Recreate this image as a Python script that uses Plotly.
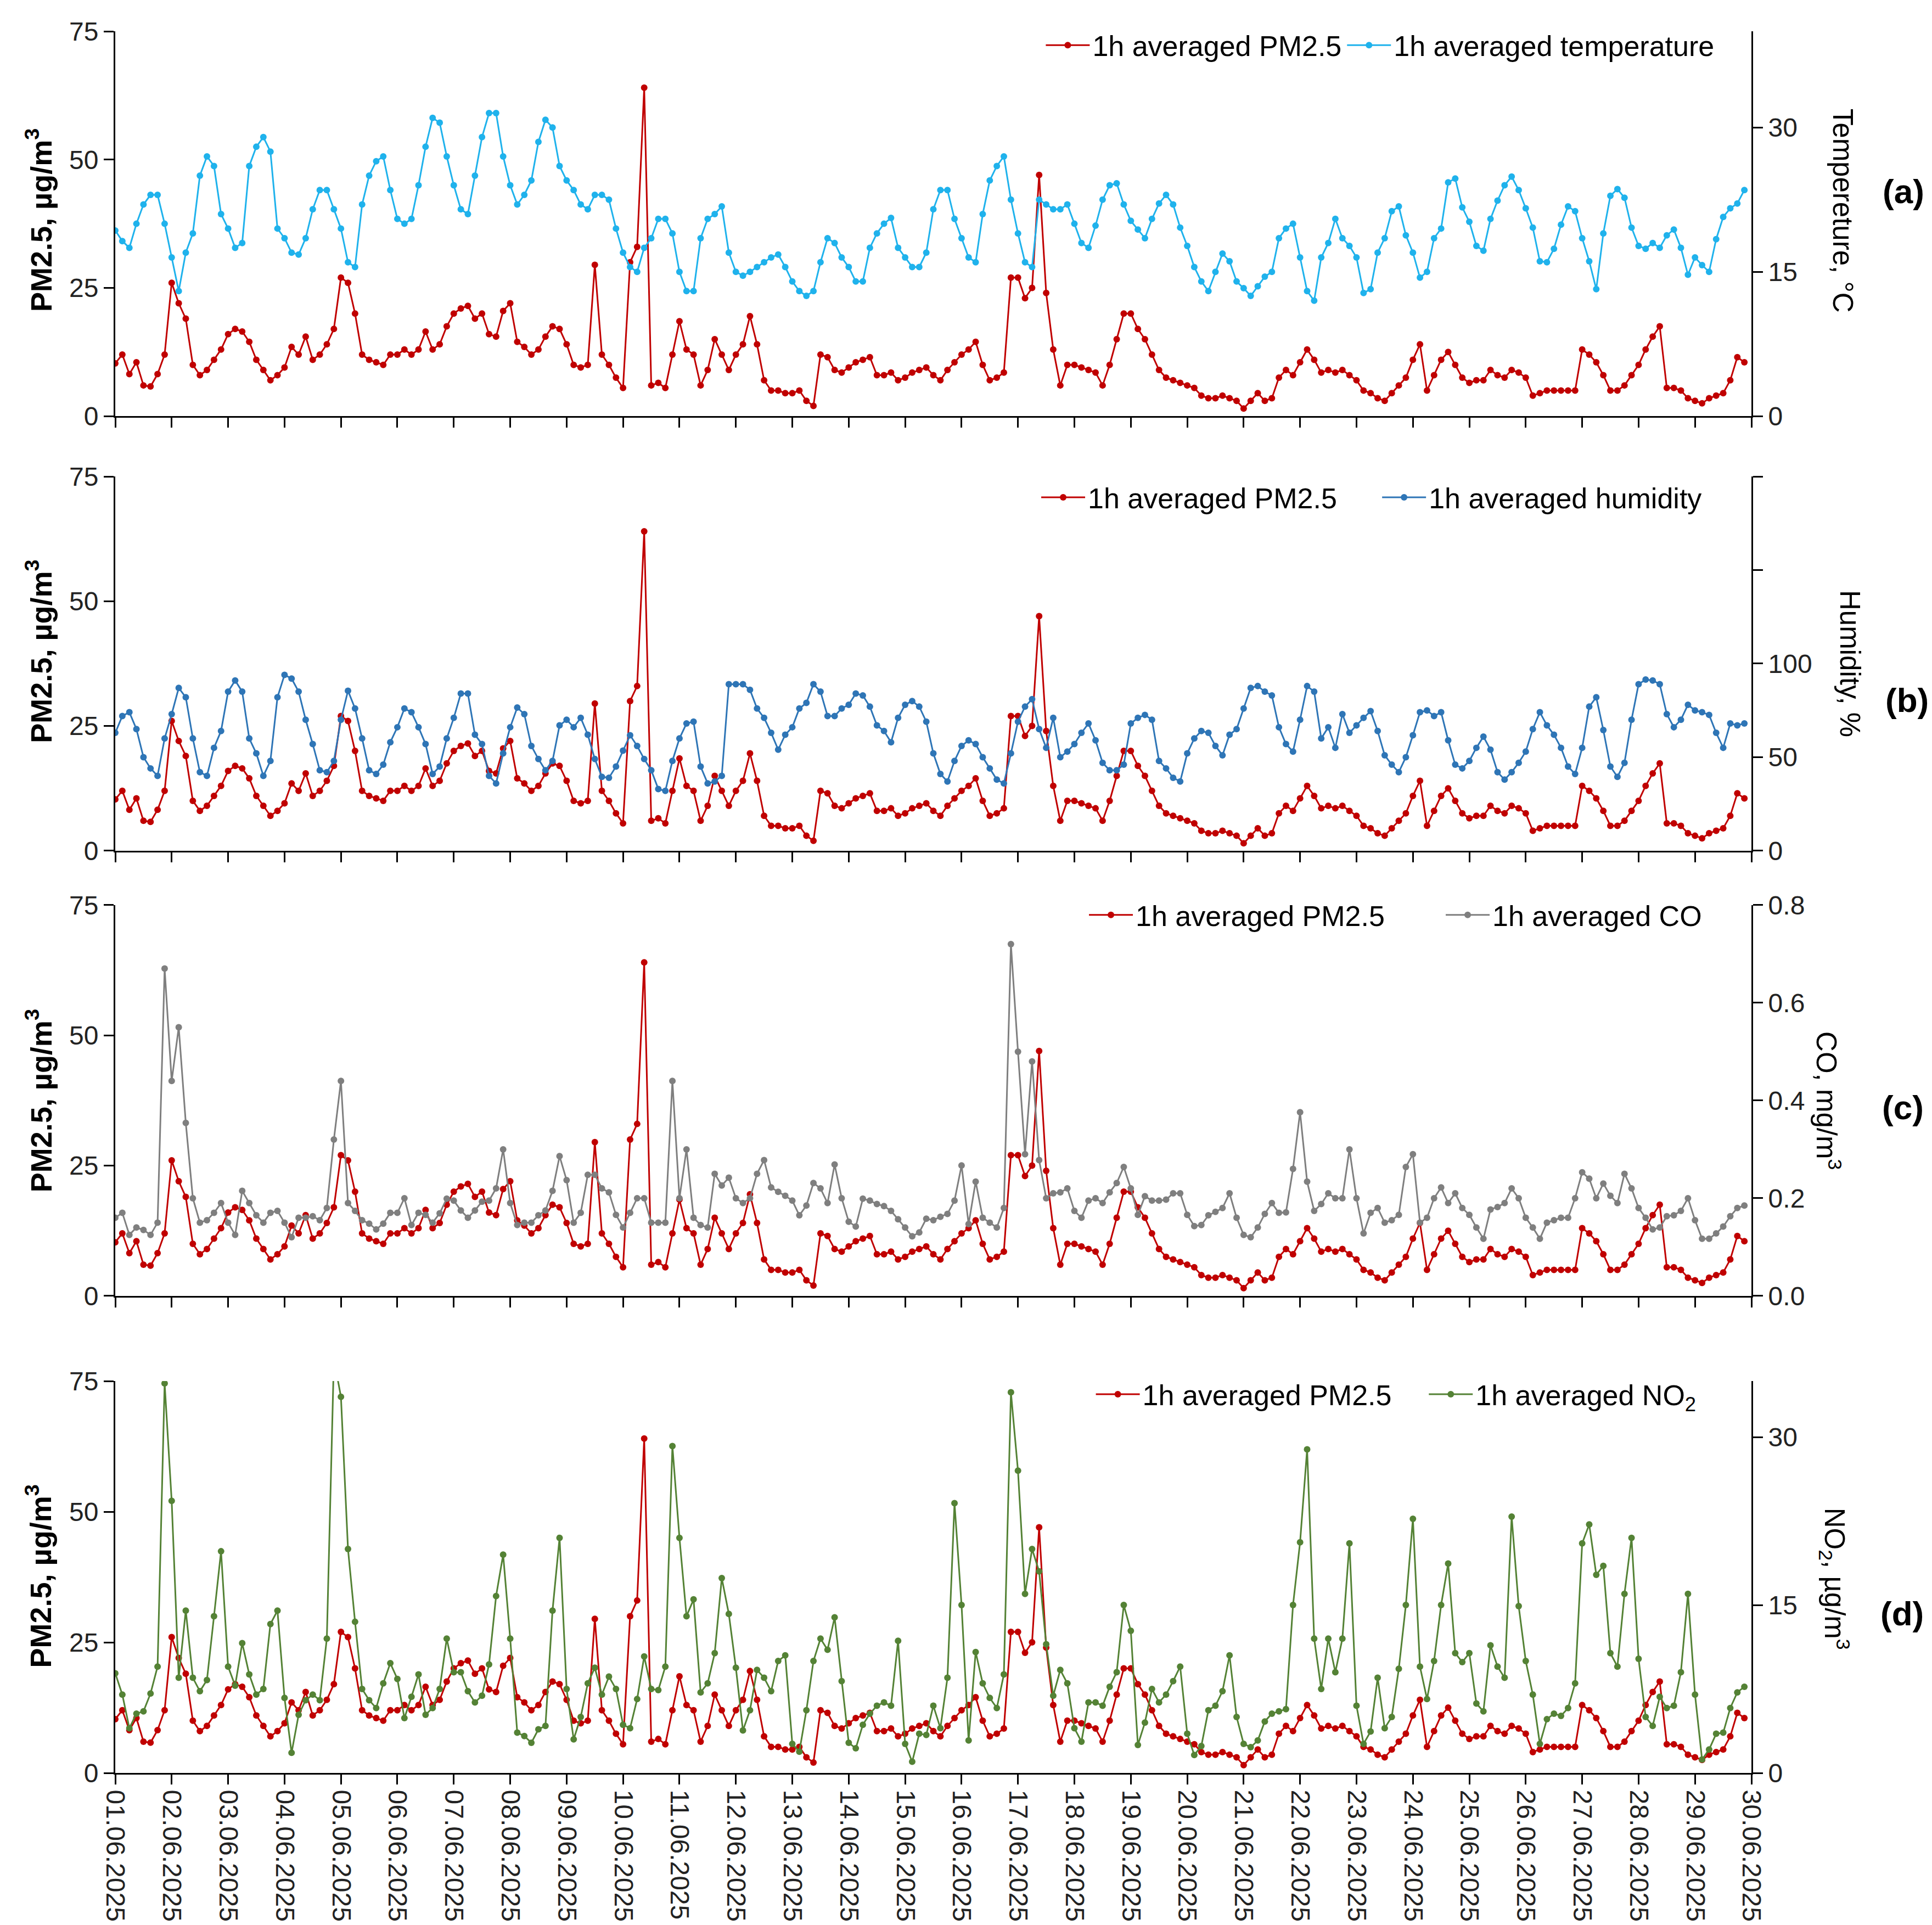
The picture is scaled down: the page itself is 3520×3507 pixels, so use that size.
import pandas as pd
import plotly.graph_objects as go
from plotly.subplots import make_subplots

# 3-hourly readings, 01.06.2025 00:00 -> 29.06.2025 21:00 (8 values per day)
pm25 = [
    10.3, 12, 8.2, 10.5, 6, 5.8, 8.2, 12,
    26, 22, 19, 10, 8, 9, 11, 13,
    16, 17, 16.5, 14.5, 11, 9, 7, 8,
    9.5, 13.5, 12, 15.5, 11, 12, 14, 17,
    27, 26, 20, 12, 11, 10.5, 10, 12,
    12, 13, 12, 13, 16.5, 13, 14, 17.5,
    20, 21, 21.5, 19, 20, 16, 15.5, 20.5,
    22, 14.5, 13.5, 12, 13, 15.5, 17.5, 17,
    14, 10, 9.5, 10, 29.5, 12, 10, 7.5,
    5.5, 30, 33, 64, 6, 6.5, 5.5, 12,
    18.5, 13, 12, 6, 9, 15, 12, 9,
    12, 14, 19.5, 14, 7, 5, 5, 4.5,
    4.5, 5, 3, 2, 12, 11.5, 9, 8.5,
    9.5, 10.5, 11, 11.5, 8, 8, 8.5, 7,
    7.5, 8.5, 9, 9.5, 8, 7, 9, 10.5,
    12, 13, 14.5, 10, 7, 7.5, 8.5, 27,
    27, 23, 25, 47, 24, 13, 6, 10,
    10, 9.5, 9, 8.5, 6, 10, 15, 20,
    20, 17, 15, 12, 9, 7.5, 7, 6.5,
    6, 5.5, 4, 3.5, 3.5, 4, 3.5, 3,
    1.5, 3, 4.5, 3, 3.5, 7.5, 9, 8,
    10.5, 13, 11, 8.5, 9, 8.5, 9, 8,
    7, 5, 4.5, 3.5, 3, 4.5, 6, 7.5,
    11, 14, 5, 8, 11, 12.5, 10, 7.5,
    6.5, 7, 7, 9, 8, 7.5, 9, 8.5,
    7.5, 4, 4.5, 5, 5, 5, 5, 5,
    13, 12, 10.5, 8, 5, 5, 6, 8,
    10, 13, 15.5, 17.5, 5.5, 5.5, 5, 3.5,
    3, 2.5, 3.5, 4, 4.5, 7, 11.5, 10.5,
]

temperature = [
    19.3, 18.2, 17.5, 20, 22, 23, 23, 20,
    16.5, 13, 17, 19, 25, 27, 26, 21,
    19.5, 17.5, 18, 26, 28, 29, 27.5, 19.5,
    18.5, 17, 16.8, 18.5, 21.5, 23.5, 23.5, 21.5,
    19.5, 16, 15.5, 22, 25, 26.5, 27, 23.5,
    20.5, 20, 20.5, 24, 28, 31, 30.5, 27,
    24, 21.5, 21, 25, 29, 31.5, 31.5, 27,
    24, 22, 23, 24.5, 28.5, 30.8, 30, 26,
    24.5, 23.5, 22, 21.5, 23, 23, 22.5, 19.5,
    17, 15.5, 15, 17.5, 18.5, 20.5, 20.5, 19,
    15, 13, 13, 18.5, 20.5, 21, 21.8, 17,
    15, 14.6, 15, 15.5, 16, 16.5, 16.8, 15.5,
    14, 13, 12.5, 13, 16, 18.5, 18, 16.5,
    15.5, 14, 14, 17.5, 19, 20, 20.6, 17.5,
    16.5, 15.5, 15.5, 17, 21.5, 23.5, 23.5, 20.5,
    18.5, 16.5, 16, 21, 24.5, 26, 27, 22.5,
    19, 16, 15.5, 22.5, 22, 21.5, 21.5, 22,
    20, 18, 17.5, 19.8, 22.5, 24, 24.2, 22,
    20.3, 19.4, 18.5, 20.5, 22.1, 23, 22, 19.6,
    17.7, 15.5, 14, 13, 15, 16.9, 16.1, 14,
    13.3, 12.5, 13.5, 14.5, 15, 18.5, 19.5, 20,
    16.5, 13, 12, 16.5, 18, 20.5, 18.5, 17.7,
    16.5, 12.8, 13.2, 17, 18.5, 21.3, 21.8, 18.8,
    17, 14.4, 15, 18.5, 19.5, 24.3, 24.7, 21.7,
    20.2, 17.7, 17.2, 20.5, 22.4, 24, 24.9, 23.5,
    21.6, 19.6, 16.1, 16, 17.4, 19.9, 21.8, 21.3,
    18.5, 16.1, 13.2, 19, 22.9, 23.6, 22.7, 19.6,
    17.7, 17.4, 18, 17.5, 18.8, 19.4, 17.5, 14.7,
    16.5, 15.7, 15, 18.4, 20.7, 21.6, 22.1, 23.5,
]

humidity = [
    63, 72, 74, 65, 50, 44, 40, 60,
    73, 87, 82, 60, 42, 40, 55, 64,
    85, 91, 85, 60, 52, 40, 48, 82,
    94, 92, 85, 70, 57, 43, 42, 48,
    70, 85.5, 76, 60, 43, 41, 46, 58,
    66, 76, 74, 66, 57, 41, 45, 60,
    71, 84, 84, 62, 57, 40, 36, 52,
    66, 76.5, 73, 56, 49, 43, 48, 67,
    70, 66, 71, 62, 49, 39.5, 39, 45,
    53.5, 61.7, 56, 49, 43, 33, 32, 48,
    60, 68, 69, 45, 36, 37, 40, 89,
    89, 89, 86, 76, 71, 63, 54, 62,
    66, 76, 79, 89, 85, 72, 72, 76,
    78, 84, 83, 77, 67, 64, 58, 71,
    78, 80, 77, 69, 52, 41, 37, 48,
    56, 59, 57, 50, 44, 38, 36, 52,
    69, 77, 81, 65, 55, 71, 50, 53,
    57, 63, 68, 59, 47, 43, 43, 46,
    68, 71, 72.6, 70, 48, 44, 39, 37,
    52, 60, 64, 63, 56, 51, 62, 65,
    76, 87, 88, 85, 83, 66, 57, 53,
    70, 88, 85, 60, 66, 55, 73, 63,
    67, 71, 74.6, 64, 51, 46, 42, 50,
    61.7, 74, 75, 72, 74, 59, 46, 44,
    48, 55, 61, 54, 42, 38, 42, 47,
    53, 65, 74, 67, 62, 55, 45, 41,
    55, 77, 82, 64.5, 45, 39.5, 47, 70,
    89, 91.5, 91, 89, 73, 66, 70, 78,
    75, 74, 72.6, 63, 55, 68, 67, 68,
]

co = [
    0.16, 0.17, 0.125, 0.14, 0.135, 0.125, 0.15, 0.67,
    0.44, 0.55, 0.354, 0.2, 0.15, 0.155, 0.17, 0.19,
    0.15, 0.125, 0.215, 0.19, 0.165, 0.15, 0.17, 0.174,
    0.15, 0.12, 0.16, 0.16, 0.163, 0.155, 0.18, 0.32,
    0.44, 0.19, 0.174, 0.155, 0.148, 0.136, 0.148, 0.17,
    0.17, 0.2, 0.145, 0.17, 0.166, 0.15, 0.169, 0.199,
    0.195, 0.175, 0.16, 0.175, 0.193, 0.195, 0.22, 0.3,
    0.19, 0.145, 0.15, 0.15, 0.165, 0.175, 0.215, 0.286,
    0.237, 0.15, 0.17, 0.248, 0.248, 0.22, 0.212, 0.166,
    0.14, 0.17, 0.2, 0.2, 0.15, 0.15, 0.15, 0.44,
    0.2, 0.3, 0.16, 0.145, 0.14, 0.25, 0.226, 0.242,
    0.2, 0.19, 0.2, 0.25, 0.278, 0.222, 0.213, 0.205,
    0.195, 0.165, 0.185, 0.231, 0.22, 0.19, 0.269, 0.2,
    0.152, 0.142, 0.199, 0.195, 0.188, 0.184, 0.174, 0.157,
    0.14, 0.122, 0.13, 0.158, 0.155, 0.162, 0.168, 0.195,
    0.267, 0.147, 0.234, 0.16, 0.15, 0.14, 0.18, 0.72,
    0.5, 0.29, 0.48, 0.278, 0.2, 0.21, 0.212, 0.22,
    0.174, 0.16, 0.195, 0.2, 0.19, 0.212, 0.231, 0.264,
    0.22, 0.166, 0.204, 0.195, 0.195, 0.197, 0.21, 0.21,
    0.166, 0.143, 0.145, 0.165, 0.172, 0.18, 0.21, 0.16,
    0.125, 0.12, 0.14, 0.168, 0.19, 0.17, 0.171, 0.26,
    0.376, 0.234, 0.174, 0.188, 0.21, 0.2, 0.2, 0.3,
    0.2, 0.128, 0.17, 0.18, 0.15, 0.155, 0.166, 0.264,
    0.29, 0.15, 0.16, 0.2, 0.222, 0.19, 0.21, 0.18,
    0.166, 0.14, 0.117, 0.177, 0.182, 0.19, 0.22, 0.2,
    0.16, 0.14, 0.117, 0.15, 0.155, 0.16, 0.16, 0.2,
    0.253, 0.24, 0.2, 0.23, 0.205, 0.19, 0.25, 0.22,
    0.18, 0.16, 0.136, 0.14, 0.163, 0.165, 0.174, 0.2,
    0.155, 0.117, 0.117, 0.128, 0.142, 0.163, 0.18, 0.185,
]

no2 = [
    8.9, 7, 4, 5.3, 5.5, 7.1, 9.5, 34.8,
    24.3, 8.5, 14.5, 8.5, 7.3, 8.3, 14, 19.8,
    9.5, 7.8, 11.6, 8.8, 7, 7.5, 13.3, 14.5,
    6.7, 1.8, 5.2, 6.5, 7, 6.5, 12, 37,
    33.6, 20, 13.5, 7.5, 6.5, 5.8, 8, 9.8,
    8.4, 4.9, 6.8, 8.8, 5.2, 5.8, 7.5, 12,
    9, 9, 7.3, 6.3, 6.9, 9.7, 15.8, 19.5,
    12, 3.6, 3.3, 2.7, 3.9, 4.2, 14.5, 21,
    7.5, 3, 5, 8, 9.4, 7, 8.6, 7.5,
    4.3, 4, 6.6, 10.4, 7.5, 7.4, 9.5, 29.2,
    21, 14, 15.5, 7.2, 8, 10.7, 17.4, 14.2,
    9.4, 3.8, 5.6, 9.2, 8.5, 7.3, 10, 10.5,
    2.6, 1.9, 5.6, 10, 12, 11, 13.9, 8.2,
    2.7, 2.2, 4.3, 5.3, 6, 6.3, 6, 11.8,
    2.6, 1.0, 3.5, 3.4, 6, 4, 8.5, 24.1,
    15, 2.9, 10.8, 8, 6.7, 5.8, 8.8, 34,
    27, 16, 20, 18, 11.5, 6.9, 9.2, 8,
    4, 2.8, 6.3, 6.3, 6, 7.7, 9, 15,
    12.7, 2.5, 4.5, 7.5, 6.3, 7, 8.2, 9.5,
    3.5, 1.6, 2.4, 5.6, 6, 7.3, 10.5, 5,
    2.6, 2.3, 2.9, 4.6, 5.3, 5.5, 5.7, 15,
    20.6, 28.9, 12, 7.5, 12, 9, 12, 20.5,
    6, 2.6, 3.7, 8.5, 4, 5, 9.3, 15,
    22.7, 9.5, 6.6, 10, 15, 18.7, 10.7, 9.9,
    10.7, 6.2, 5.5, 11.4, 9.5, 8.5, 22.9, 14.9,
    10, 7, 2.6, 4.8, 5.3, 5.1, 5.8, 8,
    20.5, 22.2, 17.7, 18.5, 10.7, 9.5, 16, 21,
    10.2, 5, 4.2, 6.8, 5.8, 6, 9, 16,
    7, 1.2, 2.1, 3.5, 3.6, 5.8, 7.2, 7.7,
]

times = pd.date_range("2025-06-01 00:00", periods=len(pm25), freq="3h")

RED = "#C00000"
panels = [
    # name, values, colour, right-axis settings, right title, panel label
    ("1h averaged temperature", temperature, "#1FB2EC",
     dict(range=[0, 40], tickvals=[0, 15, 30]), "Tempereture, °C", "(a)"),
    ("1h averaged humidity", humidity, "#2E75B6",
     dict(range=[0, 200], tickvals=[0, 50, 100, 150, 200],
          ticktext=["0", "50", "100", "", ""]), "Humidity, %", "(b)"),
    ("1h averaged CO", co, "#7F7F7F",
     dict(range=[0, 0.8], tickvals=[0, 0.2, 0.4, 0.6, 0.8], tickformat=".1f"),
     "CO, mg/m<sup>3</sup>", "(c)"),
    ("1h averaged NO<sub>2</sub>", no2, "#548235",
     dict(range=[0, 35], tickvals=[0, 15, 30]), "NO<sub>2</sub>, µg/m<sup>3</sup>", "(d)"),
]

domains = [[0.779, 1.0], [0.5295, 0.7444], [0.2739, 0.4983], [0.0, 0.2250]]
legend_pos = [(0.979, 0.992), (0.9715, 0.7324), (0.9715, 0.4926), (0.968, 0.2174)]
legend_gap = [0, 5, 7, 4]  # extra spacing after the PM2.5 entry in each legend
right_title_pos = [(1.0557, 0.897), (1.060, 0.637), (1.047, 0.386), (1.0507, 0.1116)]
label_pos = [(1.093, 0.908), (1.095, 0.616), (1.0926, 0.382), (1.092, 0.0914)]
left_title_y = [0.8916, 0.644, 0.386, 0.113]

fig = make_subplots(rows=4, cols=1, shared_xaxes=True,
                    specs=[[{"secondary_y": True}]] * 4)

axis_style = dict(showline=True, linecolor="black", linewidth=3, ticks="outside",
                  ticklen=18, tickwidth=3, tickcolor="black", showgrid=False,
                  zeroline=False, tickfont=dict(size=48, color="#222"))

annotations = []
for i, (name, vals, color, raxis, rtitle, label) in enumerate(panels):
    row = i + 1
    leg = "legend" if i == 0 else "legend%d" % row
    pm_name = "1h averaged PM2.5" + "&nbsp;" * legend_gap[i]
    fig.add_trace(go.Scatter(x=times, y=pm25, name=pm_name, mode="lines+markers",
                             line=dict(color=RED, width=3), marker=dict(color=RED, size=12),
                             legend=leg),
                  row=row, col=1, secondary_y=False)
    fig.add_trace(go.Scatter(x=times, y=vals, name=name, mode="lines+markers",
                             line=dict(color=color, width=3), marker=dict(color=color, size=12),
                             legend=leg),
                  row=row, col=1, secondary_y=True)
    fig.update_yaxes(domain=domains[i], range=[0, 75], tickvals=[0, 25, 50, 75],
                     row=row, col=1, secondary_y=False, **axis_style)
    fig.update_yaxes(row=row, col=1, secondary_y=True, **axis_style, **raxis)

    lx, ly = legend_pos[i]
    fig.update_layout({leg: dict(x=lx, y=ly, xanchor="right", yanchor="middle",
                                 orientation="h", bgcolor="rgba(0,0,0,0)",
                                 font=dict(size=52, color="black"), itemwidth=80)})

    annotations.append(dict(text=rtitle, x=right_title_pos[i][0], y=right_title_pos[i][1],
                            xref="paper", yref="paper", textangle=90, showarrow=False,
                            xanchor="center", yanchor="middle",
                            font=dict(size=51, color="black")))
    annotations.append(dict(text="<b>%s</b>" % label, x=label_pos[i][0], y=label_pos[i][1],
                            xref="paper", yref="paper", showarrow=False,
                            xanchor="center", yanchor="middle",
                            font=dict(size=62, color="black")))
    annotations.append(dict(text="<b>PM2.5, µg/m<sup>3</sup></b>", x=-0.0466, y=left_title_y[i],
                            xref="paper", yref="paper", textangle=-90, showarrow=False,
                            xanchor="center", yanchor="middle",
                            font=dict(size=54, color="black")))

fig.update_xaxes(domain=[0, 1], range=["2025-06-01", "2025-06-30"], dtick=86400000,
                 tickformat="%d.%m.%Y", tickangle=90, **axis_style)
fig.update_xaxes(showticklabels=True, row=4, col=1)

fig.update_layout(width=3520, height=3507, plot_bgcolor="white", paper_bgcolor="white",
                  font=dict(family="Liberation Sans, Arial, sans-serif", color="black"),
                  margin=dict(l=202, r=337, t=49, b=285), annotations=annotations)

fig.write_html("out.html")
